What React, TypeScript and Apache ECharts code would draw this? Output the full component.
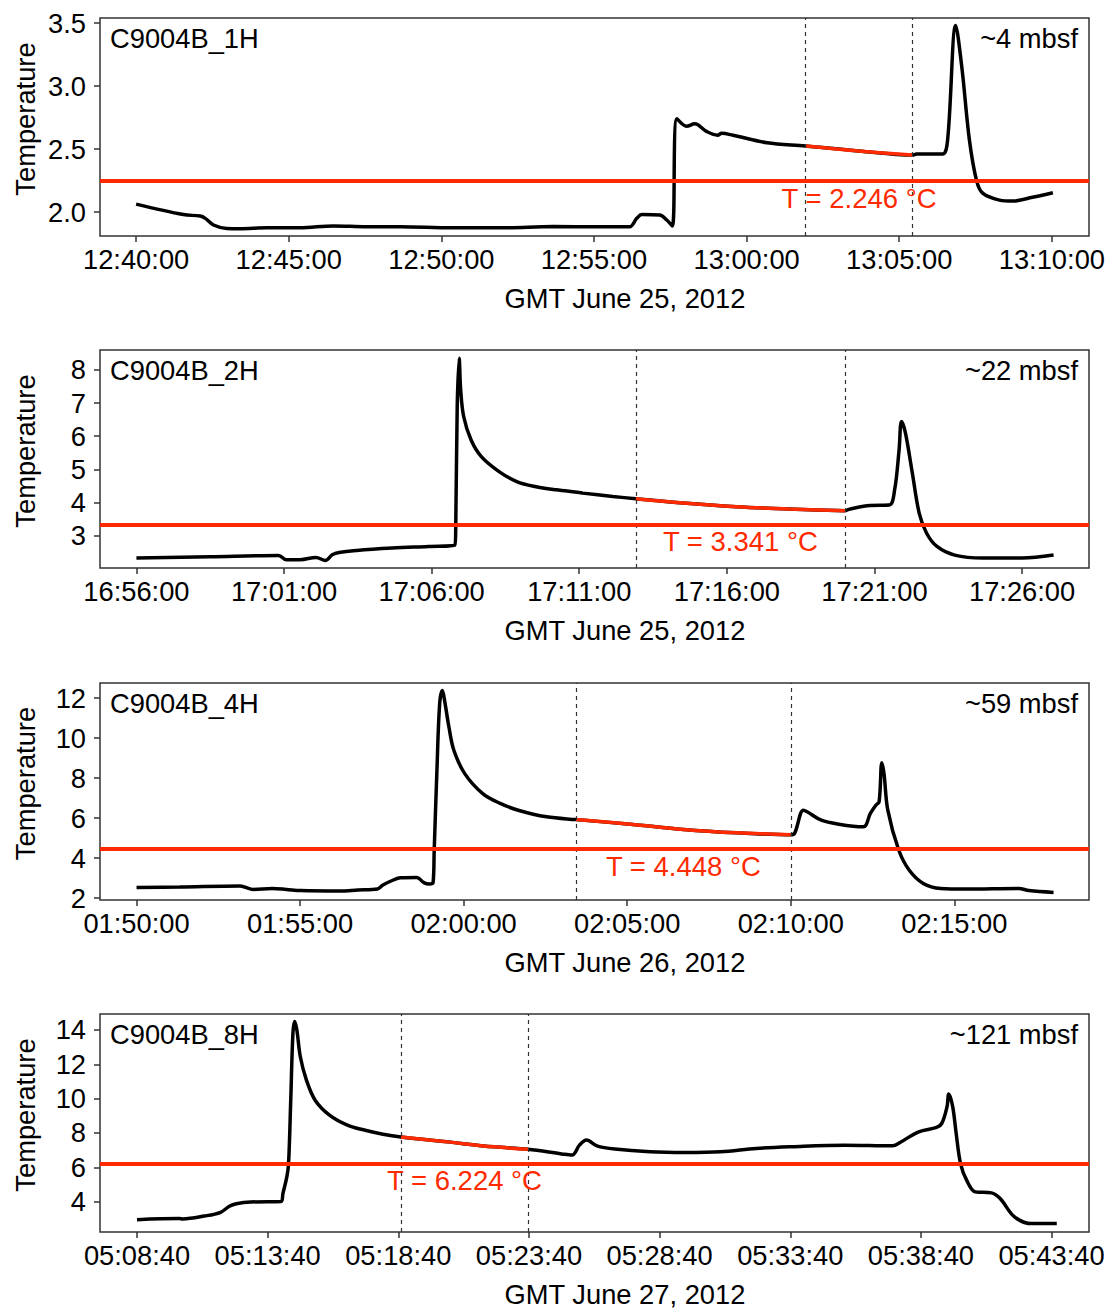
import React, { useEffect, useRef } from "react";
import * as echarts from "echarts";

const FONT = '"Liberation Sans", Arial, Helvetica, sans-serif';
const RED = "#ff2a00";
const FS = 27.3;

// ---------- Panel 1: C9004B_1H ----------
const p1Times = [
  "12:40:00", "12:41:33", "12:42:06", "12:42:16", "12:42:32", "12:42:58", "12:43:24", "12:44:17",
  "12:45:22", "12:46:28", "12:47:33", "12:48:39", "12:50:20", "12:52:00", "12:53:40", "12:55:12",
  "12:56:10", "12:56:24", "12:56:34", "12:57:09", "12:57:23", "12:57:34", "12:57:43", "12:58:02",
  "12:58:18", "12:58:41", "12:59:03", "12:59:11", "12:59:33", "13:00:40", "13:01:56", "13:03:40",
  "13:05:26", "13:05:34", "13:06:25", "13:06:35", "13:06:51", "13:07:03", "13:07:18", "13:07:32",
  "13:07:44", "13:08:17", "13:08:43", "13:09:22", "13:10:02",
];
const p1Temps = [
  2.063, 1.98, 1.968, 1.95, 1.897, 1.87, 1.868, 1.875,
  1.875, 1.89, 1.883, 1.883, 1.875, 1.875, 1.885, 1.883,
  1.883, 1.95, 1.98, 1.976, 1.937, 1.89, 2.74, 2.68,
  2.70, 2.64, 2.61, 2.625, 2.61, 2.55, 2.525, 2.485,
  2.452, 2.46, 2.46, 2.57, 3.48, 3.15, 2.57, 2.25,
  2.15, 2.095, 2.087, 2.117, 2.153,
];
const p1XTicks = ["12:40:00", "12:45:00", "12:50:00", "12:55:00", "13:00:00", "13:05:00", "13:10:00"];
const p1XRange = ["12:38:49", "13:11:13"];
const p1YTicks = [2.0, 2.5, 3.0, 3.5];
const p1YRange = [1.81, 3.54];
const p1Window = ["13:01:56", "13:05:26"];
const p1T = 2.246;

// ---------- Panel 2: C9004B_2H ----------
const p2Times = [
  "16:56:00", "16:58:30", "17:00:49", "17:01:04", "17:01:33", "17:02:05", "17:02:24", "17:02:38",
  "17:02:52", "17:03:28", "17:04:40", "17:05:53", "17:06:47", "17:06:49", "17:06:52", "17:06:56",
  "17:06:59", "17:07:05", "17:07:20", "17:07:41", "17:08:17", "17:08:53", "17:09:30", "17:10:13",
  "17:11:00", "17:11:07", "17:12:08", "17:12:55", "17:14:31", "17:16:19", "17:18:06", "17:20:00",
  "17:20:08", "17:20:51", "17:21:30", "17:21:41", "17:21:50", "17:21:55", "17:22:03", "17:22:17",
  "17:22:31", "17:22:46", "17:23:07", "17:23:43", "17:24:40", "17:26:00", "17:27:04",
];
const p2Temps = [
  2.32, 2.36, 2.40, 2.27, 2.27, 2.34, 2.25, 2.42,
  2.49, 2.55, 2.62, 2.67, 2.71, 3.27, 6.9, 8.35,
  7.4, 6.6, 5.89, 5.38, 4.93, 4.63, 4.48, 4.38,
  4.30, 4.28, 4.18, 4.11, 3.98, 3.87, 3.80, 3.75,
  3.79, 3.91, 3.92, 4.38, 5.58, 6.44, 6.09, 4.88,
  3.67, 3.07, 2.67, 2.41, 2.32, 2.32, 2.41,
];
const p2XTicks = ["16:56:00", "17:01:00", "17:06:00", "17:11:00", "17:16:00", "17:21:00", "17:26:00"];
const p2XRange = ["16:54:46", "17:28:16"];
const p2YTicks = [3, 4, 5, 6, 7, 8];
const p2YRange = [2.02, 8.6];
const p2Window = ["17:12:55", "17:20:00"];
const p2T = 3.341;

// ---------- Panel 3: C9004B_4H ----------
const p3Times = [
  "01:50:00", "01:51:19", "01:53:10", "01:53:33", "01:54:09", "01:54:35", "01:55:01", "01:56:13",
  "01:56:46", "01:57:22", "01:57:32", "01:57:51", "01:58:04", "01:58:34", "01:58:47", "01:58:57",
  "01:59:04", "01:59:06", "01:59:11", "01:59:16", "01:59:21", "01:59:25", "01:59:33", "01:59:42",
  "02:00:02", "02:00:35", "02:01:07", "02:01:40", "02:02:32", "02:03:26", "02:05:06", "02:06:43",
  "02:08:20", "02:10:00", "02:10:07", "02:10:23", "02:10:30", "02:10:56", "02:11:28", "02:12:13",
  "02:12:26", "02:12:36", "02:12:42", "02:12:47", "02:12:51", "02:12:58", "02:13:18", "02:13:37",
  "02:14:03", "02:14:35", "02:15:21", "02:16:58", "02:17:17", "02:18:02",
];
const p3Temps = [
  2.53, 2.55, 2.60, 2.43, 2.48, 2.43, 2.37, 2.35,
  2.40, 2.45, 2.65, 2.90, 3.01, 3.03, 2.77, 2.70,
  2.78, 4.40, 8.39, 11.72, 12.38, 11.88, 10.55, 9.39,
  8.22, 7.22, 6.73, 6.39, 6.06, 5.92, 5.69, 5.43,
  5.26, 5.16, 5.23, 6.39, 6.31, 5.89, 5.69, 5.56,
  6.23, 6.64, 6.81, 8.76, 8.22, 6.39, 4.40, 3.40,
  2.73, 2.48, 2.45, 2.48, 2.37, 2.28,
];
const p3XTicks = ["01:50:00", "01:55:00", "02:00:00", "02:05:00", "02:10:00", "02:15:00"];
const p3XRange = ["01:48:53", "02:19:07"];
const p3YTicks = [2, 4, 6, 8, 10, 12];
const p3YRange = [1.9, 12.75];
const p3Window = ["02:03:26", "02:10:00"];
const p3T = 4.448;

// ---------- Panel 4: C9004B_8H ----------
const p4Times = [
  "05:08:40", "05:10:17", "05:10:25", "05:11:15", "05:11:52", "05:12:12", "05:12:28", "05:13:01",
  "05:14:11", "05:14:15", "05:14:24", "05:14:28", "05:14:33", "05:14:38", "05:14:42", "05:14:47",
  "05:14:55", "05:15:09", "05:15:29", "05:16:02", "05:16:43", "05:17:24", "05:18:05", "05:18:46",
  "05:20:33", "05:22:20", "05:23:38", "05:24:55", "05:25:19", "05:25:36", "05:25:52", "05:26:16",
  "05:26:57", "05:28:18", "05:29:39", "05:31:00", "05:32:22", "05:33:43", "05:35:45", "05:37:35",
  "05:37:55", "05:38:35", "05:39:16", "05:39:28", "05:39:40", "05:39:44", "05:39:53", "05:40:01",
  "05:40:11", "05:40:25", "05:40:45", "05:41:22", "05:41:42", "05:42:15", "05:42:55", "05:43:52",
];
const p4Temps = [
  2.95, 3.01, 2.99, 3.16, 3.38, 3.73, 3.88, 3.98,
  4.00, 4.47, 5.44, 6.22, 9.91, 13.81, 14.49, 14.0,
  12.44, 11.08, 9.91, 9.04, 8.46, 8.16, 7.93, 7.77,
  7.48, 7.19, 7.05, 6.78, 6.71, 7.29, 7.59, 7.25,
  7.06, 6.90, 6.86, 6.90, 7.10, 7.20, 7.29, 7.25,
  7.49, 8.07, 8.32, 8.56, 9.53, 10.27, 9.53, 7.97,
  6.22, 5.25, 4.57, 4.51, 4.18, 3.11, 2.72, 2.72,
];
const p4XTicks = ["05:08:40", "05:13:40", "05:18:40", "05:23:40", "05:28:40", "05:33:40", "05:38:40", "05:43:40"];
const p4XRange = ["05:07:15", "05:45:06"];
const p4YTicks = [4, 6, 8, 10, 12, 14];
const p4YRange = [2.23, 14.93];
const p4Window = ["05:18:46", "05:23:38"];
const p4T = 6.224;

const panels = [
  { label: "C9004B_1H", depth: "~4 mbsf", date: "GMT June 25, 2012", times: p1Times, temps: p1Temps, xTicks: p1XTicks, xRange: p1XRange, yTicks: p1YTicks, yRange: p1YRange, win: p1Window, T: p1T, dec: 1 },
  { label: "C9004B_2H", depth: "~22 mbsf", date: "GMT June 25, 2012", times: p2Times, temps: p2Temps, xTicks: p2XTicks, xRange: p2XRange, yTicks: p2YTicks, yRange: p2YRange, win: p2Window, T: p2T, dec: 0 },
  { label: "C9004B_4H", depth: "~59 mbsf", date: "GMT June 26, 2012", times: p3Times, temps: p3Temps, xTicks: p3XTicks, xRange: p3XRange, yTicks: p3YTicks, yRange: p3YRange, win: p3Window, T: p3T, dec: 0 },
  { label: "C9004B_8H", depth: "~121 mbsf", date: "GMT June 27, 2012", times: p4Times, temps: p4Temps, xTicks: p4XTicks, xRange: p4XRange, yTicks: p4YTicks, yRange: p4YRange, win: p4Window, T: p4T, dec: 0 },
];

const layout = [
  { top: 18, height: 218 },
  { top: 350, height: 218 },
  { top: 683, height: 217 },
  { top: 1014, height: 218 },
];
const LEFT = 100;
const WIDTH = 989;

const toSec = (t: string) => {
  const [h, m, s] = t.split(":").map(Number);
  return h * 3600 + m * 60 + s;
};
const pad = (n: number) => (n < 10 ? "0" + n : "" + n);
const fmt = (v: number) => {
  const s = Math.round(v);
  return `${pad(Math.floor(s / 3600))}:${pad(Math.floor((s % 3600) / 60))}:${pad(s % 60)}`;
};

export default function App() {
  const ref = useRef<HTMLDivElement>(null);
  useEffect(() => {
    if (!ref.current) return;
    const chart = echarts.init(ref.current, undefined, { renderer: "svg" });

    const grid = layout.map((l) => ({
      left: LEFT, top: l.top, width: WIDTH, height: l.height,
      show: true, borderColor: "#333", borderWidth: 1.5, backgroundColor: "transparent",
    }));

    const xAxis = panels.map((p, i) => ({
      type: "value", gridIndex: i,
      min: toSec(p.xRange[0]), max: toSec(p.xRange[1]),
      axisLine: { show: false },
      splitLine: { show: false },
      axisTick: { show: true, length: 6, customValues: p.xTicks.map(toSec), lineStyle: { color: "#333", width: 1.5 } },
      axisLabel: { customValues: p.xTicks.map(toSec), formatter: (v: number) => fmt(v), fontSize: FS, fontFamily: FONT, color: "#000", margin: 10 },
    }));

    const yAxis = panels.map((p, i) => ({
      type: "value", gridIndex: i,
      min: p.yRange[0], max: p.yRange[1],
      axisLine: { show: false },
      splitLine: { show: false },
      axisTick: { show: true, length: 6, customValues: p.yTicks, lineStyle: { color: "#333", width: 1.5 } },
      axisLabel: { customValues: p.yTicks, formatter: (v: number) => v.toFixed(p.dec), fontSize: FS, fontFamily: FONT, color: "#000", margin: 14 },
    }));

    const series: any[] = [];
    panels.forEach((p, i) => {
      const pts = p.times.map((t, j) => [toSec(t), p.temps[j]]);
      const w0 = toSec(p.win[0]);
      const w1 = toSec(p.win[1]);
      const redPts = pts.filter((d) => d[0] >= w0 && d[0] <= w1);
      series.push({
        type: "line", xAxisIndex: i, yAxisIndex: i, data: [], z: 1, silent: true,
        markLine: {
          symbol: ["none", "none"], silent: true, label: { show: false },
          data: [
            { xAxis: w0, lineStyle: { type: [4, 4], color: "#333", width: 1.2 } },
            { xAxis: w1, lineStyle: { type: [4, 4], color: "#333", width: 1.2 } },
            { yAxis: p.T, lineStyle: { type: "solid", color: RED, width: 4 } },
          ],
        },
        markPoint: {
          silent: true,
          data: [{
            coord: [(w0 + w1) / 2, p.T], symbol: "circle", symbolSize: 1,
            itemStyle: { color: "rgba(0,0,0,0)" },
            label: {
              show: true, position: "inside", offset: [0, 17],
              formatter: `T = ${p.T.toFixed(3)} °C`, color: RED, fontSize: 27.5, fontFamily: FONT,
            },
          }],
        },
      });
      series.push({
        type: "line", xAxisIndex: i, yAxisIndex: i, data: pts, z: 3,
        showSymbol: false, symbol: "none", smooth: 0.35,
        lineStyle: { color: "#000", width: 3.5 },
      });
      series.push({
        type: "line", xAxisIndex: i, yAxisIndex: i, data: redPts, z: 4,
        showSymbol: false, symbol: "none", smooth: 0.35,
        lineStyle: { color: RED, width: 3.5 },
      });
    });

    const graphic: any[] = [];
    panels.forEach((p, i) => {
      const l = layout[i];
      const font = `${FS}px ${FONT}`;
      graphic.push({ type: "text", x: 110, y: l.top + 20, style: { text: p.label, font, fill: "#000", textAlign: "left", textVerticalAlign: "middle" } });
      graphic.push({ type: "text", x: 1078, y: l.top + 20, style: { text: p.depth, font, fill: "#000", textAlign: "right", textVerticalAlign: "middle" } });
      graphic.push({ type: "text", x: 625, y: l.top + l.height + 62, style: { text: p.date, font, fill: "#000", textAlign: "center", textVerticalAlign: "middle" } });
      graphic.push({ type: "text", x: 25, y: l.top + l.height / 2 - 8, rotation: Math.PI / 2, style: { text: "Temperature", font, fill: "#000", textAlign: "center", textVerticalAlign: "middle" } });
    });

    chart.setOption({
      animation: false,
      backgroundColor: "#fff",
      textStyle: { fontFamily: FONT },
      grid, xAxis, yAxis, series, graphic,
    } as any);
    return () => chart.dispose();
  }, []);

  return <div ref={ref} style={{ position: "absolute", left: 0, top: 0, width: 1113, height: 1309 }} />;
}
